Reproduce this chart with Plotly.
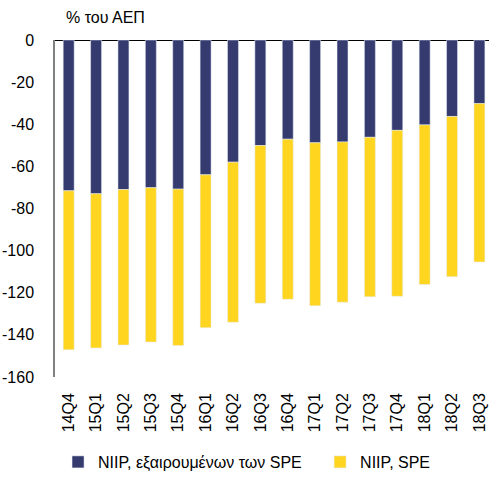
import plotly.graph_objects as go

quarters = ['14Q4', '15Q1', '15Q2', '15Q3', '15Q4', '16Q1', '16Q2', '16Q3',
            '16Q4', '17Q1', '17Q2', '17Q3', '17Q4', '18Q1', '18Q2', '18Q3']

# ΚΔΘ χωρίς τις SPE (% του ΑΕΠ)
niip_ex_spe = [-71.6, -73.0, -71.0, -70.1, -70.8, -64.0, -58.0, -50.1,
               -47.1, -48.8, -48.4, -46.2, -42.9, -40.3, -36.3, -30.2]
# συμβολή των SPE
niip_spe = [-75.5, -73.2, -73.8, -73.3, -74.3, -72.6, -76.0, -74.9,
            -76.0, -77.4, -76.1, -75.7, -78.8, -75.8, -76.1, -75.2]

y_ticks = [0, -20, -40, -60, -80, -100, -120, -140, -160]
y_labels = ['0', '-20', '-40', '-60', '-80', '-100', '-120', '-140', '-160']

font = 'Liberation Sans, Arial, sans-serif'

fig = go.Figure()
# τα nbsp στο τέλος ανοίγουν λίγο την απόσταση ανάμεσα στα δύο στοιχεία του υπομνήματος
fig.add_trace(go.Bar(x=quarters, y=niip_ex_spe,
                     name='NIIP, εξαιρουμένων των SPE\u00a0\u00a0\u00a0',
                     marker_color='#353B6F', width=0.4))
fig.add_trace(go.Bar(x=quarters, y=niip_spe, name='NIIP, SPE',
                     marker_color='#FFD520', width=0.4))

fig.update_layout(
    barmode='relative',
    width=489, height=479,
    margin=dict(l=55, r=0, t=40, b=95),
    plot_bgcolor='white', paper_bgcolor='white',
    font=dict(family=font, size=16, color='#000000'),
    showlegend=True,
    legend=dict(orientation='h', x=0.007, y=-0.253, xanchor='left', yanchor='middle',
                font=dict(size=16), traceorder='normal'),
)
fig.update_xaxes(range=[-0.5, 15.35], tickangle=-90, showline=False, ticks='',
                 showgrid=False, ticklabelstandoff=12)
fig.update_yaxes(range=[-160, 0], tickvals=y_ticks, ticktext=y_labels,
                 showgrid=False, showline=True,
                 linecolor='#808080', linewidth=1.5, ticks='', zeroline=True,
                 zerolinecolor='#000000', zerolinewidth=1, ticklabelstandoff=16)
fig.add_annotation(text='% του ΑΕΠ', xref='paper', yref='paper', x=0.02, y=1.035,
                   xanchor='left', yanchor='bottom', showarrow=False,
                   font=dict(size=16))

# χωρίς το περιθώριο 8px του body
fig.write_html("out.html", config={'displayModeBar': False},
               post_script="document.body.style.margin='0';")
